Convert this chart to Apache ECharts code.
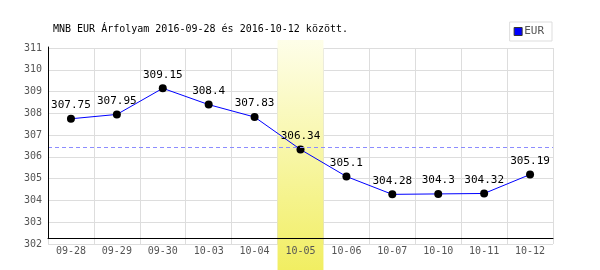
<!DOCTYPE html>
<html>
<head>
<meta charset="utf-8">
<script src="https://cdn.jsdelivr.net/npm/echarts@6/dist/echarts.min.js"></script>
<style>html,body{margin:0;padding:0;background:#fff;}#c{width:600px;height:270px;}</style>
</head>
<body>
<div id="c"></div>
<script>
var categories = ['09-28','09-29','09-30','10-03','10-04','10-05','10-06','10-07','10-10','10-11','10-12'];
var eurValues = [307.75, 307.95, 309.15, 308.4, 307.83, 306.34, 305.1, 304.28, 304.3, 304.32, 305.19];
var highlightCategory = '10-05';
var yTicks = [302, 303, 304, 305, 306, 307, 308, 309, 310, 311];
var titleText = 'MNB EUR Árfolyam 2016-09-28 és 2016-10-12 között.';
var seriesName = 'EUR';

var avg = eurValues.reduce(function(a,b){return a+b;},0) / eurValues.length;
var bandData = categories.map(function(c){ return c === highlightCategory ? 1 : null; });
var mono = 'DejaVu Sans Mono';

var chart = echarts.init(document.getElementById('c'), null, {renderer:'canvas'});
chart.setOption({
  animation: false,
  backgroundColor: '#fff',
  title: {
    text: titleText, left: 48, top: 19,
    textStyle: {fontFamily: mono, fontSize: 10, fontWeight: 'normal', color: '#000'}
  },
  legend: {
    data: [{name: seriesName, icon: 'rect'}],
    right: 48, top: 22,
    padding: [4, 8, 4, 4],
    borderColor: '#ddd', borderWidth: 1,
    itemWidth: 8, itemHeight: 8, itemGap: 2,
    textStyle: {fontFamily: mono, fontSize: 11, color: '#555', padding: [0,0,0,-3]},
    itemStyle: {color: '#0000ff', borderColor: '#333', borderWidth: 1}
  },
  grid: [
    {left: 48, right: 47, top: 48, bottom: 26},
    {left: 48, right: 47, top: 47, bottom: 32},
    {left: 48, right: 47, top: 40, bottom: 0}
  ],
  xAxis: [
    {gridIndex: 0, type: 'category', data: categories, boundaryGap: true, position: 'bottom',
     axisLine: {show: false}, axisTick: {show: false},
     splitLine: {show: true, lineStyle: {color: '#dddddd', width: 1}},
     axisLabel: {show: false}},
    {gridIndex: 1, type: 'category', data: categories, z: 5,
     axisLine: {show: true, lineStyle: {color: '#000', width: 1}},
     axisTick: {show: false}, axisLabel: {show: false}, splitLine: {show: false}},
    {gridIndex: 2, type: 'category', data: categories, show: false},
    {gridIndex: 0, type: 'category', data: categories, boundaryGap: true, position: 'bottom', z: 5,
     axisLine: {show: false}, axisTick: {show: false}, splitLine: {show: false},
     axisLabel: {fontFamily: mono, fontSize: 10, color: '#555', margin: 2}}
  ],
  yAxis: [
    {gridIndex: 0, type: 'value', min: 302, max: 311, interval: 1,
     axisLine: {show: false}, axisTick: {show: false},
     splitLine: {show: true, lineStyle: {color: '#dddddd', width: 1}},
     axisLabel: {fontFamily: mono, fontSize: 10, color: '#555', margin: 6,
       formatter: function(v){ return yTicks.indexOf(v) >= 0 ? String(v) : ''; }}},
    {gridIndex: 1, type: 'value', min: 0, max: 1, z: 5,
     axisLine: {show: true, lineStyle: {color: '#000', width: 1}},
     axisTick: {show: false}, axisLabel: {show: false}, splitLine: {show: false}},
    {gridIndex: 2, type: 'value', min: 0, max: 1, show: false}
  ],
  series: [
    {name: 'avg', type: 'line', xAxisIndex: 0, yAxisIndex: 0, data: [], z: 1,
     markLine: {silent: true, symbol: 'none', label: {show: false},
       lineStyle: {color: '#8c8cff', type: [4, 3], width: 1, opacity: 1},
       data: [{yAxis: avg}]}},
    {name: 'band', type: 'bar', xAxisIndex: 2, yAxisIndex: 2, data: bandData, z: 1.5,
     barWidth: '100%', barGap: '0%', barCategoryGap: '0%', silent: true,
     itemStyle: {color: new echarts.graphic.LinearGradient(0, 0, 0, 1, [
       {offset: 0, color: '#fefee9'}, {offset: 1, color: '#f1ee62'}])}},
    {name: seriesName, type: 'line', xAxisIndex: 0, yAxisIndex: 0, data: eurValues, z: 3,
     symbol: 'circle', symbolSize: 8,
     lineStyle: {color: '#0000ff', width: 1},
     itemStyle: {color: '#000'},
     label: {show: true, position: 'top', distance: 4, fontFamily: mono, fontSize: 11, color: '#000'}}
  ]
});
</script>
</body>
</html>
